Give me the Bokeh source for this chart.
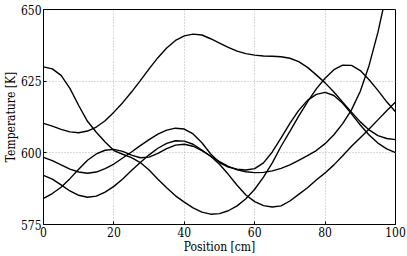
from bokeh.plotting import figure
from bokeh.models import FixedTicker, Range1d
from bokeh.embed import file_html
from bokeh.resources import INLINE

# Position along the element [cm]
position = [0, 2.5, 5, 7.5, 10, 12.5, 15, 17.5, 20, 22.5, 25, 27.5, 30, 32.5, 35, 37.5,
            40, 42.5, 45, 47.5, 50, 52.5, 55, 57.5, 60, 62.5, 65, 67.5, 70, 72.5, 75, 77.5,
            80, 82.5, 85, 87.5, 90, 92.5, 95, 97.5, 100]

# Temperature profiles [K]
temp_a = [630.0, 629.3, 627.0, 622.5, 616.5, 611.0, 607.2, 603.8, 600.8, 599.5, 598.3, 596.6,
          594.0, 590.8, 587.8, 585.0, 582.8, 580.8, 579.3, 578.6, 578.8, 579.8, 581.5, 584.0,
          587.3, 591.5, 596.5, 602.3, 607.5, 612.8, 617.8, 622.3, 626.0, 629.0, 630.6, 630.5,
          628.7, 625.5, 621.8, 617.8, 614.3]
temp_b = [610.3, 609.3, 608.2, 607.3, 607.0, 607.6, 609.0, 611.2, 614.2, 617.5, 621.2, 625.2,
          629.3, 633.2, 636.6, 639.2, 640.8, 641.4, 641.1, 639.8, 638.3, 636.8, 635.5, 634.6,
          634.1, 633.8, 633.7, 633.5, 633.0, 631.8, 629.8, 627.2, 624.4, 621.2, 617.7, 614.2,
          610.8, 608.0, 606.0, 605.0, 604.6]
temp_c = [598.4, 597.3, 595.8, 594.3, 593.3, 592.9, 593.3, 594.5, 596.1, 598.2, 600.3, 602.5,
          604.6, 606.5, 607.9, 608.6, 608.3, 606.6, 603.5, 599.6, 596.6, 595.0, 594.3, 594.0,
          594.5, 596.5, 600.3, 605.2, 610.3, 614.8, 618.3, 620.4, 621.1, 620.0, 617.3, 613.6,
          609.7, 606.2, 603.4, 601.4, 600.1]
temp_d = [592.1, 590.8, 588.8, 586.7, 585.2, 584.5, 584.9, 586.3, 588.3, 590.9, 593.8, 596.6,
          599.3, 601.6, 603.3, 604.2, 604.1, 603.0, 601.0, 598.8, 596.0, 592.5, 588.7, 585.3,
          583.0, 581.6, 581.1, 581.5, 583.2, 585.5, 587.8, 590.5, 593.0, 595.8, 599.0, 602.3,
          605.3, 608.3, 611.5, 614.7, 617.7]
temp_e = [584.1, 585.8, 588.0, 591.0, 594.3, 597.4, 599.6, 600.9, 601.2, 600.5, 599.2, 598.3,
          598.5, 599.8, 601.5, 602.7, 603.0, 602.3, 600.8, 598.8, 596.9, 595.3, 594.1, 593.4,
          593.1, 593.2, 593.7, 594.6, 595.8, 597.4, 599.0, 600.8, 603.2, 606.3, 610.2, 615.0,
          621.5, 630.5, 642.0, 656.0, 671.0]

x_ticks = [0, 20, 40, 60, 80, 100]
y_ticks = [575, 600, 625, 650]

FONT = "DejaVu Serif Condensed"

p = figure(width=407, height=256, x_range=Range1d(0, 100), y_range=Range1d(575, 650),
           output_backend="svg", toolbar_location=None,
           min_border_top=9, min_border_right=12, min_border_left=2, min_border_bottom=2)

for temps in [temp_a, temp_b, temp_c, temp_d, temp_e]:
    p.line(position, temps, line_color="black", line_width=1.4)

p.xaxis.ticker = FixedTicker(ticks=x_ticks)
p.yaxis.ticker = FixedTicker(ticks=y_ticks)
p.xaxis.axis_label = "Position [cm]"
p.yaxis.axis_label = "Temperature [K]"

for ax in [p.xaxis[0], p.yaxis[0]]:
    ax.axis_label_text_font = FONT
    ax.axis_label_text_font_size = "12px"
    ax.axis_label_text_font_style = "normal"
    ax.axis_label_text_color = "black"
    ax.major_label_text_font = FONT
    ax.major_label_text_font_size = "12px"
    ax.major_label_text_color = "black"
    ax.axis_line_color = "black"
    ax.major_tick_in = 3
    ax.major_tick_out = 0
    ax.minor_tick_line_color = None
    ax.major_tick_line_color = "black"
    ax.major_label_standoff = 2
    ax.axis_label_standoff = 0

p.xgrid.grid_line_color = "#b4b4b4"
p.ygrid.grid_line_color = "#b4b4b4"
p.xgrid.grid_line_dash = "1 2"
p.ygrid.grid_line_dash = "1 2"
p.outline_line_color = "black"
p.outline_line_width = 1
p.background_fill_color = "white"
p.border_fill_color = "white"

open("out.html", "w").write(file_html(p, INLINE))
